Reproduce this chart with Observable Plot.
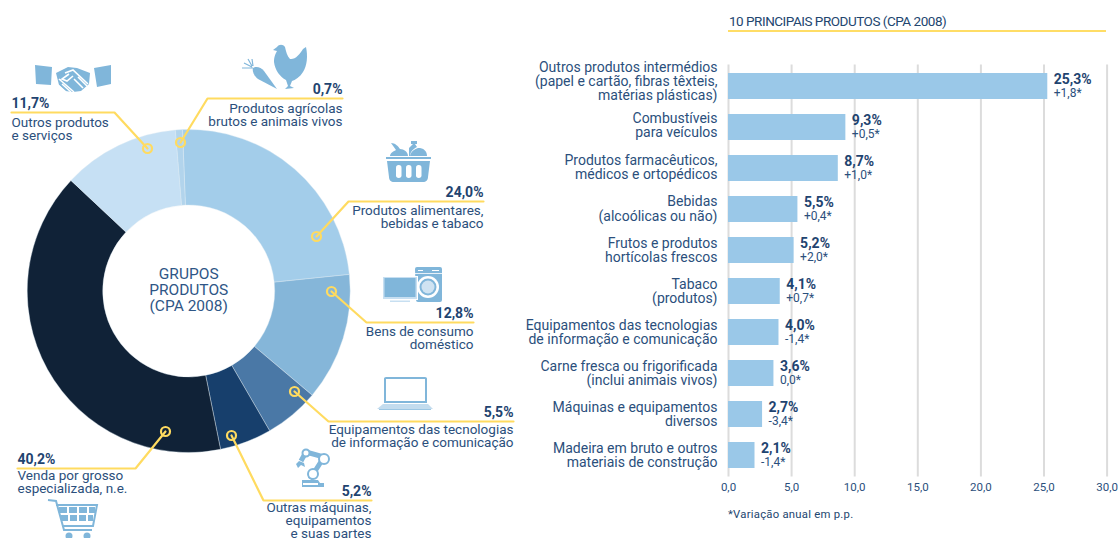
<!DOCTYPE html>
<html lang="pt">
<head>
<meta charset="utf-8">
<script src="https://cdn.jsdelivr.net/npm/d3@7"></script>
<script src="https://cdn.jsdelivr.net/npm/@observablehq/plot@0.6"></script>
<style>
  html,body{margin:0;padding:0;background:#fff;}
  #page{position:relative;width:1118px;height:538px;overflow:hidden;font-family:Roboto,sans-serif;color:#23477a;}
  #left,#right{position:absolute;top:0;}
  #left{left:0;}#right{left:520px;}
  #title{position:absolute;left:729px;top:13px;font-size:13.5px;color:#23466f;white-space:nowrap;letter-spacing:-.48px;}
  #titleRule{position:absolute;left:728px;top:30px;width:378px;height:2px;background:#ffdd66;}
  #note{position:absolute;left:728px;top:508px;font-size:11.3px;color:#23466f;white-space:nowrap;letter-spacing:.25px;}
</style>
</head>
<body>
<div id="page">
  <div id="left"></div>
  <div id="right"></div>
  <div id="title">10 PRINCIPAIS PRODUTOS (CPA 2008)</div>
  <div id="titleRule"></div>
  <div id="note">*Variação anual em p.p.</div>
</div>
<script>
// ---------- data ----------
const groupShares = [24.0, 12.8, 5.5, 5.2, 40.2, 11.7, 0.7];
const groupShareLabels = ["24,0%", "12,8%", "5,5%", "5,2%", "40,2%", "11,7%", "0,7%"];
const groupNames = [
  "Produtos alimentares,\nbebidas e tabaco",
  "Bens de consumo\ndoméstico",
  "Equipamentos das tecnologias\nde informação e comunicação",
  "Outras máquinas,\nequipamentos\ne suas partes",
  "Venda por grosso\nespecializada, n.e.",
  "Outros produtos\ne serviços",
  "Produtos agrícolas\nbrutos e animais vivos"
];
const productNames = [
  "Outros produtos intermédios\n(papel e cartão, fibras têxteis,\nmatérias plásticas)",
  "Combustíveis\npara veículos",
  "Produtos farmacêuticos,\nmédicos e ortopédicos",
  "Bebidas\n(alcoólicas ou não)",
  "Frutos e produtos\nhortícolas frescos",
  "Tabaco\n(produtos)",
  "Equipamentos das tecnologias\nde informação e comunicação",
  "Carne fresca ou frigorificada\n(inclui animais vivos)",
  "Máquinas e equipamentos\ndiversos",
  "Madeira em bruto e outros\nmateriais de construção"
];
const productShares = [25.3, 9.3, 8.7, 5.5, 5.2, 4.1, 4.0, 3.6, 2.7, 2.1];
const productChanges = ["+1,8*", "+0,5*", "+1,0*", "+0,4*", "+2,0*", "+0,7*", "-1,4*", "0,0*", "-3,4*", "-1,4*"];
const axisTicks = [0, 5, 10, 15, 20, 25, 30];

// ---------- styles & layout ----------
const sliceColors = ["#a3cdea", "#85b6d9", "#4a78a6", "#173f6c", "#102237", "#c6e0f4", "#b2d4ec"];
const ink = "#1f4470", inkSoft = "#2b4f7c", gold = "#ffdb60", iconBlue = "#80b6da";
const cx = 188.7, cy = 291, rOuter = 161.5, rInner = 86, startDeg = -2.2;
const labelNudge = [-5, -2, -1, -0.5, 0, 0, 0, 0, 0, 0];

// leader line per group: [label end, elbow, dot] and label placement
const leaders = [
  {path:[[483,201],[348,201],[316,236]], anchor:"end"},
  {path:[[473,322],[366,322],[331,291]], anchor:"end"},
  {path:[[513,421],[328,421],[294,391]], anchor:"end"},
  {path:[[371,500],[263,500],[231,435]], anchor:"end"},
  {path:[[17,468],[135,468],[165,431]],  anchor:"start"},
  {path:[[11,112],[114,112],[147,148]],  anchor:"start"},
  {path:[[342,98],[207,98],[180,142]],   anchor:"end"}
];
const pctY = [192, 313, 412, 491.5, 459, 103, 89];
const nameY = [216.5, 337.5, 435.5, 520, 482, 128.5, 114.5];

const icons = [
  {x:35,y:65,svg:`<path d="M0 0L17 2L16 20L1 19Z M59 3L76 0L76 19L62 22Z"/>
    <path d="M21 8L33 2L42 3L55 8L54 19L46 26L38 27L30 26L24 20Z"/>
    <g fill="none" stroke="#fff" stroke-width="1.6"><path d="M30 8L38 5L53 19M34 9L27 14L32 16L38 11M24 14L39 27M27 19L36 27M23 20L31 27M39 14L48 23M43 12L52 21"/></g>`},
  {x:273,y:44,svg:`<path d="M4 3C6 0 10 0 12 3C13 7 14 12 17 15C22 16 27 10 30 5L33 3C35 12 34 22 30 28C27 33 22 36 19 37L17 42L21 44L12 45L15 42L13 36C7 33 2 26 1 18C1 12 3 9 4 7L0 6Z"/>`},
  {x:242,y:59,svg:`<path d="M11 9C14 7 19 8 22 12L35 30L16 20C12 17 10 12 11 9Z"/>
    <g fill="none" stroke="${iconBlue}" stroke-width="1.2"><path d="M11 9L0 9M10 8L2 4M10 7L6 0M11 7L10 0"/></g>`},
  {x:386,y:141,svg:`<path d="M4 15C4 12 8 10 10 9L5 2C9 2 12 5 14 8C18 8 22 11 22 15Z M23 15L23 7L27 3L25 3L25 0L31 0L31 3L29 3L31 6C27 8 24 11 24 15Z M24 15C25 10 29 8 32 7L34 7C39 8 41 11 41 15Z M0 16L45 16L45 18L0 18Z"/>
    <path d="M1 20L44 20L42 36C42 39 40 41 37 41L8 41C5 41 3 39 3 36Z"/>
    <g fill="#fff"><rect x="10" y="24" width="5.500" height="13" rx="2.700"/><rect x="20" y="24" width="5.500" height="13" rx="2.700"/><rect x="30" y="24" width="5.500" height="13" rx="2.700"/></g>`},
  {x:382,y:267,svg:`<path d="M33 2Q33 0 35 0L58 0Q60 0 60 2L60 33Q60 35 58 35L36 35Q34 35 34 33Z"/>
    <rect x="36" y="3" width="5" height="1" fill="#fff"/><rect x="50" y="3" width="7" height="1" fill="#fff"/><rect x="33" y="6" width="27" height="0.800" fill="#fff"/>
    <circle cx="46" cy="20" r="11" fill="#fff"/><circle cx="46" cy="20" r="8.500"/><circle cx="46" cy="20" r="6.500" fill="#cfe3f2"/>
    <rect x="0" y="9" width="36" height="24" fill="#fff"/><rect x="1" y="10" width="34" height="22" fill="#c7dff1"/><rect x="2.500" y="11" width="31" height="19"/>
    <rect x="8" y="33.500" width="20" height="1.500" fill="#c7dff1"/>`},
  {x:377,y:377,svg:`<path d="M7 1.500Q7 0 9 0L48 0Q50 0 50 1.500L50 26L7 26Z M9 2L9 24L48 24L48 2Z" fill-rule="evenodd"/>
    <path d="M6 27L51 27L56 32L0 32Z" fill="#c3dcee"/><rect x="2" y="32" width="52" height="1" fill="#9cc7e4"/>`},
  {x:296,y:449,svg:`<g fill="none" stroke="${iconBlue}" stroke-width="5"><path d="M14 30L28 8L10 3L5 12" /></g>
    <g fill="#fff" stroke="${iconBlue}" stroke-width="2"><circle cx="28" cy="10" r="5"/><circle cx="17" cy="25" r="5"/><circle cx="10" cy="4" r="3.500"/></g>
    <path d="M3 12L8 14L9 18L5 16L2 19L0 15Z M6 31L22 31L24 34L28 34L28 38L6 38Z"/>
    <rect x="7" y="34" width="15" height="2" fill="#fff"/>`},
  {x:48,y:499,svg:`<g fill="none" stroke="${iconBlue}" stroke-width="2"><path d="M0 1L8 2L16 31L44 31M8 6L49 6L45 27L14 27"/></g>
    <rect x="11" y="8" width="8" height="6"/><rect x="21" y="8" width="8" height="6"/><rect x="31" y="8" width="8" height="6"/><rect x="41" y="8" width="6" height="6"/>
    <rect x="13" y="16" width="7" height="6"/><rect x="22" y="16" width="7" height="6"/><rect x="31" y="16" width="7" height="6"/><rect x="40" y="16" width="5" height="6"/>
    <circle cx="21" cy="37" r="3.500"/><circle cx="39" cy="37" r="3.500"/>`}
];

// ---------- tables for the marks ----------
const groups = groupShares.map((share, i) => ({
  share, label: groupShareLabels[i], name: groupNames[i], color: sliceColors[i], leader: leaders[i], i
}));
const products = productNames.map((name, i) => ({name, share: productShares[i], change: productChanges[i], nudge: labelNudge[i]}));

const fmtComma = d => d.toFixed(1).replace(".", ",");

// custom marks: donut slices and icons, placed through Plot's own scales
function donutMark(index, {x, y}) {
  const g = d3.create("svg:g").attr("transform", `translate(${x(cx)},${y(cy)})`);
  const arcs = d3.pie().sort(null).value(d => d.share)
    .startAngle(startDeg * Math.PI / 180)
    .endAngle((startDeg + 360) * Math.PI / 180)(groups);
  const arc = d3.arc().innerRadius(rInner).outerRadius(rOuter);
  g.selectAll("path").data(arcs).join("path")
    .attr("d", arc)
    .attr("fill", d => d.data.color)
    .attr("stroke", "#dfeaf3").attr("stroke-width", 0.4);
  return g.node();
}
function iconMark(index, {x, y}) {
  const g = d3.create("svg:g").attr("fill", iconBlue);
  for (const ic of icons) {
    g.append("g").attr("transform", `translate(${x(ic.x)},${y(ic.y)})`).html(ic.svg);
  }
  return g.node();
}

// ---------- left: donut ----------
const leaderRows = groups.flatMap(g => g.leader.path.map(([px, py]) => ({px, py, i: g.i})));
const labelMarks = ["start", "end"].flatMap(anchor => {
  const rows = groups.filter(g => g.leader.anchor === anchor);
  return [
    Plot.text(rows, {x: d => d.leader.path[0][0], y: d => pctY[d.i], text: "label", textAnchor: anchor,
      fill: ink, fontSize: 14, fontWeight: 700}),
    Plot.text(rows, {x: d => d.leader.path[0][0], y: d => nameY[d.i], text: "name", textAnchor: anchor,
      fill: inkSoft, fontSize: 13.5, lineHeight: 0.98, letterSpacing: "0.2px"})
  ];
});
const left = Plot.plot({
  width: 520, height: 538, margin: 0,
  x: {domain: [0, 520], range: [0, 520], axis: null},
  y: {domain: [0, 538], range: [0, 538], axis: null},
  style: {fontFamily: "Roboto, sans-serif", background: "transparent", overflow: "visible"},
  marks: [
    donutMark,
    iconMark,
    Plot.line(leaderRows, {x: "px", y: "py", z: "i", stroke: gold, strokeWidth: 2.2, strokeLinejoin: "miter", curve: "linear"}),
    Plot.dot(groups, {x: d => d.leader.path[2][0], y: d => d.leader.path[2][1], r: 4.5, fill: "none", stroke: gold, strokeWidth: 2.2}),
    ...labelMarks,
    Plot.text(["GRUPOS\nPRODUTOS\n(CPA 2008)"], {x: () => cx - 0.5, y: () => cy - 1.500, text: d => d, fill: "#2f5686", fontSize: 15.5, lineHeight: 1.03, letterSpacing: "0.35px"})
  ]
});
document.getElementById("left").append(left);

// ---------- right: bars ----------
const right = Plot.plot({
  width: 598, height: 538,
  marginLeft: 208, marginRight: 11.4, marginTop: 64.5, marginBottom: 61.5,
  x: {domain: [0, 30], axis: null},
  y: {domain: productNames, paddingInner: 0.37, paddingOuter: 0.185, axis: null},
  style: {fontFamily: "Roboto, sans-serif", background: "transparent", overflow: "visible"},
  marks: [
    Plot.ruleX(axisTicks, {stroke: "#dcdcdc", strokeWidth: 2}),
    Plot.barX(products, {x: "share", y: "name", fill: "#9ac8e8"}),
    ...products.map(p => Plot.text([p], {frameAnchor: "left", y: "name", text: "name", dx: -11, dy: p.nudge, textAnchor: "end", fill: inkSoft, fontSize: 14, lineHeight: 1.02})),
    Plot.axisX({anchor: "bottom", ticks: axisTicks, tickFormat: fmtComma, tickSize: 0, tickPadding: 5.500, fontSize: 11.5, fill: inkSoft, label: null}),
    Plot.text(products, {x: "share", y: "name", text: d => fmtComma(d.share) + "%", dx: 6, dy: -6.5, textAnchor: "start", fill: ink, fontSize: 14, fontWeight: 700}),
    Plot.text(products, {x: "share", y: "name", text: "change", dx: 6, dy: 6.5, textAnchor: "start", fill: inkSoft, fontSize: 12})
  ]
});
document.getElementById("right").append(right);
</script>
</body>
</html>
